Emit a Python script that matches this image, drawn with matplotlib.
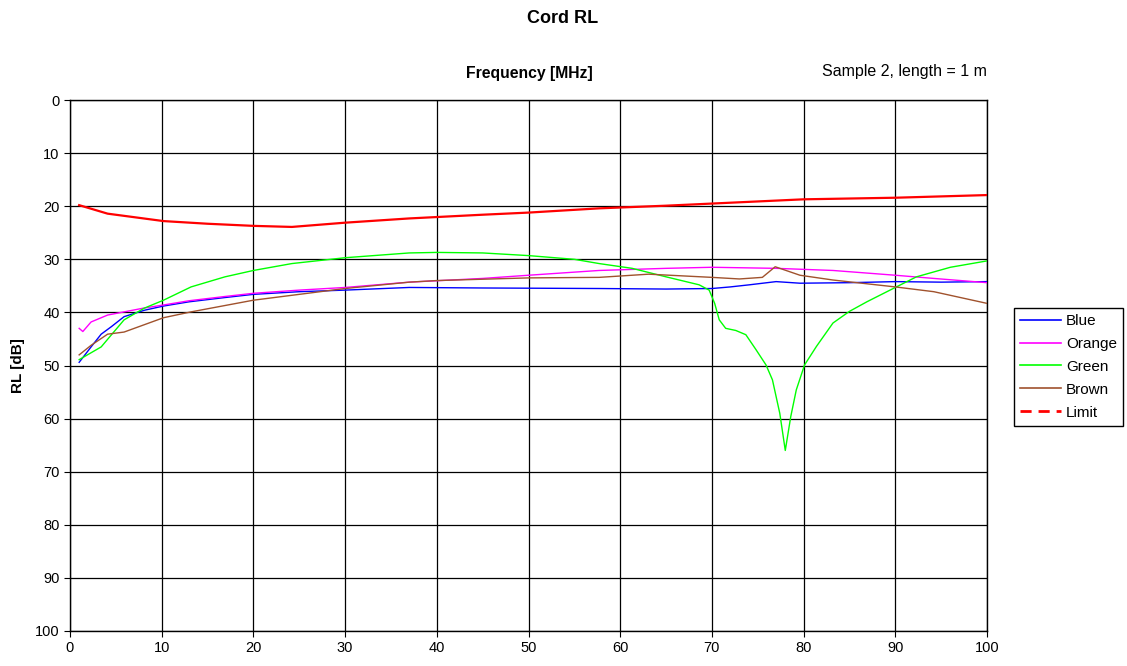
import numpy as np
import matplotlib
matplotlib.use("Agg")
import matplotlib.pyplot as plt
from matplotlib.lines import Line2D

plt.rcParams['font.family'] = ['Liberation Sans', 'DejaVu Sans']

#### Data (frequency in MHz, RL in dB) ####
blue_f = [1.0, 2.3, 3.4, 4.5, 5.9, 8.1, 10.2, 13.0, 16.9, 20, 25, 30, 37, 45, 57.7, 65, 70, 72, 74.1, 77, 79.6, 85, 90, 95, 100]
blue_rl = [49.4, 46.5, 44.1, 42.7, 40.8, 39.6, 38.8, 38.0, 37.2, 36.6, 36.1, 35.8, 35.3, 35.4, 35.5, 35.6, 35.5, 35.2, 34.8, 34.2, 34.5, 34.4, 34.2, 34.3, 34.2]

orange_f = [1.0, 1.4, 2.3, 4.1, 5.9, 8.0, 10.2, 13.0, 16.9, 20, 25, 30, 37, 45, 50, 57.7, 65, 70, 77, 83.2, 90, 94.2, 100]
orange_rl = [43.0, 43.6, 41.8, 40.5, 39.9, 39.2, 38.6, 37.8, 37.0, 36.4, 35.8, 35.3, 34.3, 33.6, 33.0, 32.1, 31.7, 31.5, 31.7, 32.1, 33.0, 33.6, 34.4]

green_f = [1.0, 3.4, 5.9, 8.1, 10.2, 13.2, 16.9, 20, 24.2, 30, 37, 40, 45, 50, 55, 57.7, 61.3, 65, 68.6, 69.7, 70.3, 70.8, 71.5, 72.6, 73.7,
           74.8, 75.9, 76.6, 77.4, 78.0, 78.6, 79.2, 80.1, 81.4, 83.2, 85.0, 86.9, 90, 92.3, 96, 100]
green_rl = [48.9, 46.5, 41.4, 39.2, 37.7, 35.2, 33.3, 32.1, 30.8, 29.7, 28.8, 28.7, 28.8, 29.3, 30.0, 30.8, 31.7, 33.3, 34.8, 35.8, 38.3, 41.4, 43.0, 43.4, 44.2,
            47.0, 49.9, 52.7, 59.0, 66.0, 59.6, 54.6, 49.9, 46.4, 42.0, 39.8, 38.0, 35.3, 33.3, 31.5, 30.3]

brown_f = [1.0, 2.3, 4.1, 5.9, 10.2, 13.2, 20, 30, 37, 40, 50, 57.7, 63.1, 70, 73, 75.5, 76.9, 79.6, 83.2, 90, 94.2, 100]
brown_rl = [48.0, 46.2, 44.1, 43.7, 41.0, 39.9, 37.7, 35.5, 34.3, 34.0, 33.5, 33.4, 32.8, 33.4, 33.7, 33.4, 31.4, 33.0, 33.9, 35.2, 36.1, 38.3]

limit_f = [1.0, 4.1, 10.2, 15, 20, 24.2, 30, 37, 45, 50, 57.7, 65, 70, 80, 90, 100]
limit_rl = [19.8, 21.4, 22.8, 23.3, 23.7, 23.9, 23.1, 22.3, 21.6, 21.2, 20.4, 19.9, 19.5, 18.7, 18.4, 17.9]

names = ['Blue', 'Orange', 'Green', 'Brown', 'Limit']
colors = ['#0000ff', '#ff00ff', '#00ff00', '#a0522d', '#ff0000']

#### Plot ####
fig = plt.figure(figsize=(11.27, 6.66), dpi=100)
ax = fig.add_axes([0.0621, 0.0526, 0.8137, 0.7972])

series = [(blue_f, blue_rl), (orange_f, orange_rl), (green_f, green_rl), (brown_f, brown_rl)]
for (f, rl), c in zip(series, colors[:4]):
    ax.plot(f, rl, color=c, lw=1.0, zorder=3)
ax.plot(limit_f, limit_rl, color=colors[4], lw=1.6, zorder=3)

ax.set_xlim(0, 100)
ax.set_ylim(100, 0)
ax.set_xticks(np.arange(0, 101, 10))
ax.set_yticks(np.arange(0, 101, 10))
ax.tick_params(labelsize=10.5, length=4, direction='out')
ax.grid(True, color='black', lw=0.9)
for s in ax.spines.values():
    s.set_color('black')
    s.set_linewidth(1.0)

ax.set_ylabel('RL [dB]', fontsize=11, fontweight='bold', labelpad=7)
fig.text(0.4996, 0.972, 'Cord RL', ha='center', va='center', fontsize=13, fontweight='bold')
fig.text(0.470, 0.890, 'Frequency [MHz]', ha='center', va='center', fontsize=11.3, fontweight='bold')
fig.text(0.876, 0.892, 'Sample 2, length = 1 m', ha='right', va='center', fontsize=11.5)

handles = [Line2D([], [], color=c, lw=1.2) for c in colors[:4]]
handles.append(Line2D([], [], color=colors[4], lw=2.0, ls=(0, (4, 2.5))))
leg = fig.legend(handles, names, loc='upper left', bbox_to_anchor=(1014 / 1127, 1 - 308 / 666),
                 fontsize=11, handlelength=2.7, fancybox=False, framealpha=1, borderaxespad=0,
                 borderpad=0.4, labelspacing=0.58, handletextpad=0.3)
leg.get_frame().set_edgecolor('black')
leg.get_frame().set_linewidth(1.0)

fig.savefig('out.png', dpi=100)
